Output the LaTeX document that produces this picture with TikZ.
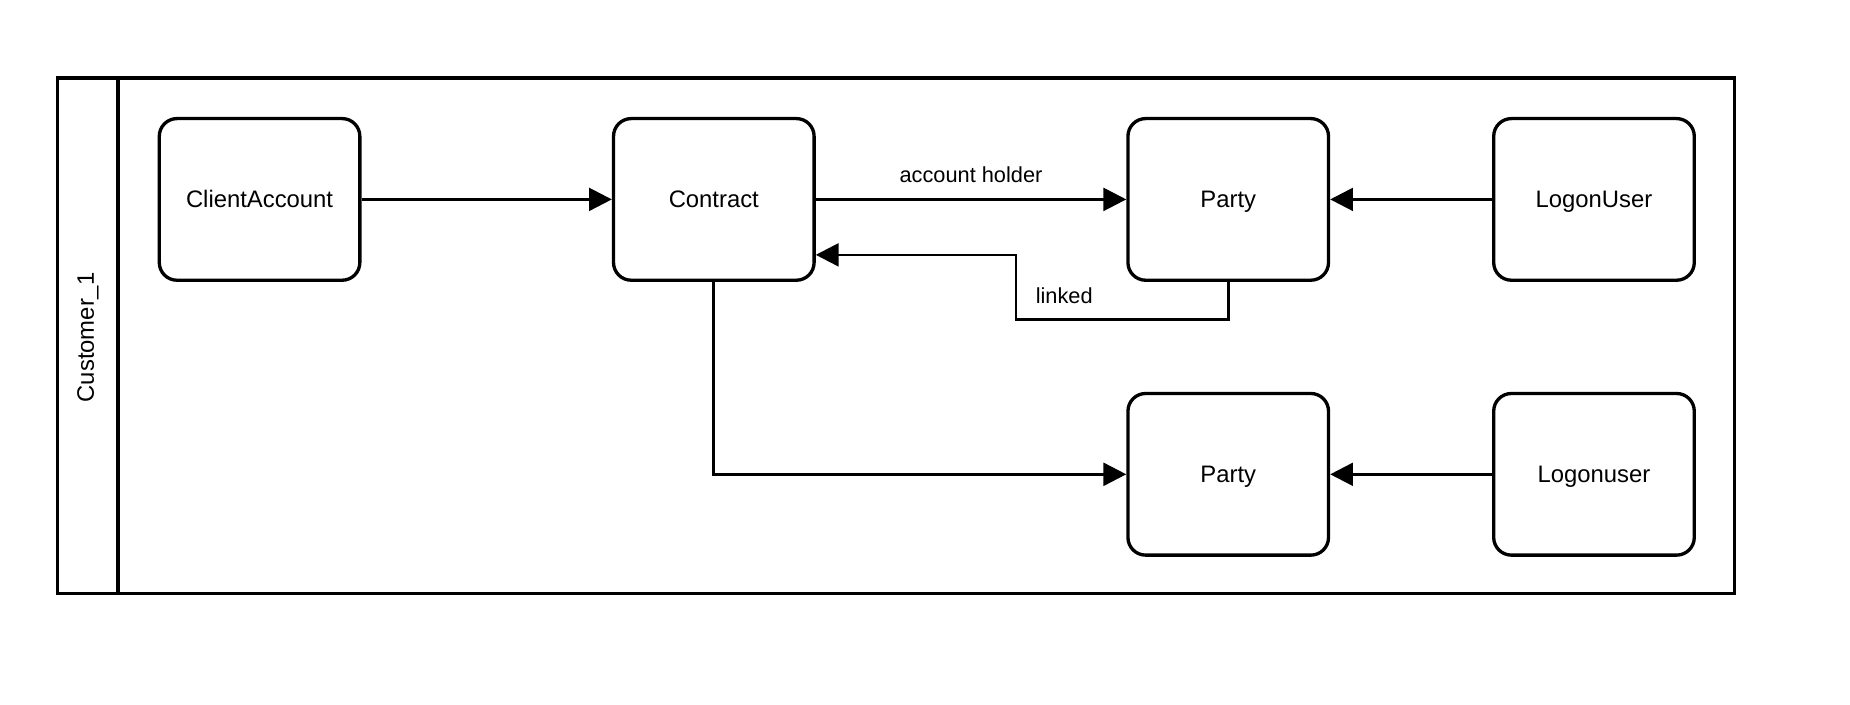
\documentclass[tikz,border=0pt]{standalone}
\usepackage{fontspec}
\setmainfont{Liberation Sans}
\usetikzlibrary{arrows.meta}

\begin{document}
\begin{tikzpicture}[
    entity/.style={draw, line width=1.6pt, rounded corners=0.3cm, minimum width=3.4cm, minimum height=2.74cm, text height=1.6ex, text depth=0.1ex, font=\fontsize{11.5}{13}\selectfont},
    link/.style={line width=1.3pt, -{Triangle[length=11pt,width=11pt]}},
    lbl/.style={font=\fontsize{10.5}{12}\selectfont}
  ]
  \useasboundingbox (0,0) rectangle (31.36,-11.94);

  % pool
  \draw[line width=1.6pt] (0.98,-1.32) rectangle (29.4,-10.06);
  \draw[line width=1.6pt] (2.0,-1.32) -- (2.0,-10.06);
  \node[rotate=90, font=\fontsize{11.5}{13}\selectfont] (pool) at (1.49,-5.72) {Customer\_1};

  \node[entity] (account) at (4.4,-3.38) {ClientAccount};
  \node[entity] (contract) at (12.1,-3.38) {Contract};
  \node[entity] (party) at (20.82,-3.38) {Party};
  \node[entity] (logon) at (27.02,-3.38) {LogonUser};
  \node[entity] (party2) at (20.82,-8.04) {Party};
  \node[entity] (logon2) at (27.02,-8.04) {Logonuser};

  \draw[link] (account) -- (contract);
  \draw[link] (contract) -- node[lbl, above=4pt] (holder) {account holder} (party);
  \draw[link] (logon) -- (party);
  \draw[link] (party.south) |- (17.22,-5.42) |- ([yshift=-0.94cm]contract.east);
  \node[lbl] (linked) at (18.04,-5.02) {linked};
  \draw[link] (contract.south) |- (party2.west);
  \draw[link] (logon2) -- (party2);
\end{tikzpicture}
\end{document}
